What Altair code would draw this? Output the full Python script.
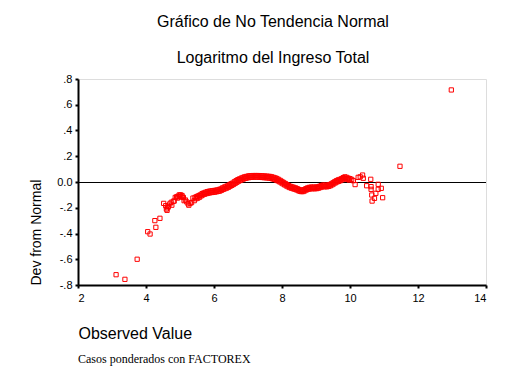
import altair as alt
import pandas as pd

obs = [3.12, 3.38, 3.74, 4.05, 4.12, 4.26, 4.29, 4.41, 4.52, 4.58,
       4.60, 4.62, 4.64, 4.66, 4.70, 4.74, 4.76, 4.80, 4.83, 4.86,
       4.90, 4.94, 4.98, 5.02, 5.06, 5.10, 5.12, 5.16, 5.20, 5.24,
       5.26, 5.30, 5.34, 5.38, 5.42, 5.44, 5.48, 5.52, 5.56, 5.60,
       5.65, 5.70, 5.75, 5.80, 5.85, 5.90, 5.95, 6.00, 6.05, 6.10,
       6.15, 6.20, 6.25, 6.30, 6.35, 6.40, 6.45, 6.50, 6.55, 6.60,
       6.65, 6.70, 6.75, 6.80, 6.85, 6.90, 6.95, 7.00, 7.05, 7.10,
       7.15, 7.20, 7.25, 7.30, 7.35, 7.40, 7.45, 7.50, 7.55, 7.60,
       7.65, 7.70, 7.75, 7.80, 7.85, 7.90, 7.95, 8.00, 8.05, 8.10,
       8.15, 8.20, 8.25, 8.30, 8.35, 8.40, 8.45, 8.50, 8.55, 8.60,
       8.65, 8.70, 8.75, 8.80, 8.85, 8.90, 8.95, 9.00, 9.05, 9.10,
       9.15, 9.20, 9.25, 9.30, 9.35, 9.40, 9.45, 9.50, 9.55, 9.60,
       9.65, 9.70, 9.75, 9.80, 9.85, 9.90, 9.95, 10.00, 10.05, 10.10,
       10.15, 10.24, 10.30, 10.37, 10.39, 10.49, 10.61, 10.62, 10.62, 10.64,
       10.65, 10.72, 10.76, 10.83, 10.83, 10.92, 10.96, 11.47, 12.98]
dev = [-0.72, -0.756, -0.60, -0.386, -0.404, -0.30, -0.352, -0.282, -0.166, -0.184,
       -0.21, -0.22, -0.20, -0.19, -0.17, -0.158, -0.18, -0.15, -0.148, -0.12,
       -0.115, -0.11, -0.10, -0.10, -0.105, -0.12, -0.145, -0.14, -0.155, -0.17,
       -0.18, -0.165, -0.16, -0.125, -0.145, -0.12, -0.115, -0.11, -0.105, -0.10,
       -0.09, -0.085, -0.08, -0.075, -0.072, -0.07, -0.068, -0.066, -0.064, -0.062,
       -0.058, -0.054, -0.046, -0.040, -0.034, -0.030, -0.022, -0.014, -0.008, 0.002,
       0.010, 0.018, 0.024, 0.030, 0.035, 0.040, 0.043, 0.046, 0.048, 0.049,
       0.050, 0.050, 0.050, 0.050, 0.049, 0.048, 0.047, 0.046, 0.045, 0.044,
       0.043, 0.040, 0.036, 0.032, 0.027, 0.020, 0.012, 0.004, -0.004, -0.012,
       -0.020, -0.028, -0.034, -0.038, -0.042, -0.046, -0.052, -0.058, -0.062, -0.064,
       -0.060, -0.052, -0.046, -0.042, -0.040, -0.040, -0.040, -0.040, -0.038, -0.034,
       -0.028, -0.024, -0.024, -0.026, -0.024, -0.020, -0.014, -0.006, 0.002, 0.010,
       0.016, 0.020, 0.026, 0.034, 0.040, 0.036, 0.030, 0.026, 0.020, 0.010,
       -0.020, 0.036, 0.040, 0.054, 0.029, -0.029, 0.021, -0.036, -0.057, -0.101,
       -0.148, -0.127, -0.088, -0.018, -0.057, -0.049, -0.122, 0.122, 0.715]

# Lower edge of the dense band of overlapping cases
obs_band = [4.925, 4.975, 5.025, 5.075,
            5.475, 5.525, 5.575, 5.625, 5.675, 5.725, 5.775, 5.825, 5.875, 5.925,
            5.975, 6.025, 6.075, 6.125, 6.175, 6.225, 6.275, 6.325, 6.375, 6.425,
            6.475, 6.525, 6.575, 6.625, 6.675, 6.725, 6.775, 6.825, 6.875, 6.925,
            6.975, 7.025, 7.075, 7.125, 7.175, 7.225, 7.275, 7.325, 7.375, 7.425,
            7.475, 7.525, 7.575, 7.625, 7.675, 7.725, 7.775, 7.825, 7.875, 7.925,
            7.975, 8.025, 8.075, 8.125, 8.175, 8.225, 8.275, 8.325, 8.375, 8.425,
            8.475, 8.525, 8.575, 8.625, 8.675, 8.725, 8.775, 8.825, 8.875, 8.925,
            8.975, 9.025, 9.075, 9.125, 9.175, 9.225, 9.275, 9.325, 9.375, 9.425,
            9.475, 9.525, 9.575, 9.625, 9.675, 9.725, 9.775, 9.825, 9.875, 9.925,
            9.975]
dev_band = [-0.125, -0.115, -0.112, -0.118,
            -0.13, -0.125, -0.118, -0.108, -0.100, -0.095, -0.090, -0.087, -0.084, -0.082,
            -0.080, -0.078, -0.076, -0.073, -0.070, -0.064, -0.057, -0.052, -0.047, -0.041,
            -0.033, -0.026, -0.019, -0.010, -0.002, 0.006, 0.012, 0.018, 0.024, 0.028,
            0.032, 0.034, 0.036, 0.037, 0.038, 0.038, 0.038, 0.037, 0.036, 0.035,
            0.034, 0.033, 0.032, 0.031, 0.028, 0.024, 0.020, 0.015, 0.009, 0.002,
            -0.006, -0.014, -0.022, -0.030, -0.037, -0.043, -0.048, -0.052, -0.056, -0.061,
            -0.067, -0.072, -0.075, -0.074, -0.068, -0.061, -0.056, -0.053, -0.052, -0.052,
            -0.052, -0.051, -0.048, -0.043, -0.038, -0.036, -0.037, -0.037, -0.034, -0.029,
            -0.022, -0.014, -0.006, 0.001, 0.006, 0.011, 0.018, 0.025, 0.026, 0.020,
            0.015]

x_ticks = [2, 4, 6, 8, 10, 12, 14]
y_ticks = [-0.8, -0.6, -0.4, -0.2, 0.0, 0.2, 0.4, 0.6, 0.8]
ref_line = [0.0]
footnote = ["Casos ponderados con FACTOREX"]

df = pd.DataFrame({"obs": obs + obs_band, "dev": dev + dev_band})
W, H = 408, 206

x_axis = alt.Axis(values=x_ticks, grid=False, title="Observed Value",
                  labelFont="Liberation Sans", labelFontSize=11, labelColor="black",
                  labelPadding=4, tickSize=3, tickWidth=2, tickColor="black",
                  domainColor="black", domainWidth=2, labelOverlap=False,
                  titleFont="Liberation Sans", titleFontSize=16, titleFontWeight="normal",
                  titleColor="black", titleAnchor="start", titleAlign="left",
                  titleBaseline="alphabetic", titleX=0, titleY=53)
y_axis = alt.Axis(values=y_ticks, grid=False, title="Dev from Normal",
                  labelExpr="abs(datum.value) < 0.001 ? '0.0' : (datum.value < 0 ? '-' : '') + '.' + round(abs(datum.value) * 10)",
                  labelFont="Liberation Sans", labelFontSize=11, labelColor="black",
                  labelPadding=3, tickSize=3, tickWidth=2, tickColor="black",
                  domainColor="black", domainWidth=2, labelOverlap=False,
                  titleFont="Liberation Sans", titleFontSize=14, titleFontWeight="normal",
                  titleColor="black", titleAngle=270, titleAlign="left",
                  titleBaseline="alphabetic", titleX=-38, titleY=H)
x_scale = alt.Scale(domain=[2, 14], nice=False, zero=False)
y_scale = alt.Scale(domain=[-0.8, 0.8], nice=False, zero=False)

points = alt.Chart(df).mark_point(shape="square", filled=False, color="#ff0000",
                                  size=18, strokeWidth=1, opacity=1).encode(
    x=alt.X("obs:Q", scale=x_scale, axis=x_axis),
    y=alt.Y("dev:Q", scale=y_scale, axis=y_axis))

zero_line = alt.Chart(pd.DataFrame({"dev": ref_line})).mark_rule(
    color="black", strokeWidth=1, yOffset=0.5).encode(
    y=alt.Y("dev:Q", scale=y_scale, axis=y_axis))

note = alt.Chart(pd.DataFrame({"t": footnote})).mark_text(
    font="Liberation Serif", fontSize=12, align="left", baseline="alphabetic", color="black"
).encode(text="t:N", x=alt.value(0), y=alt.value(H + 78))

chart = alt.layer(zero_line, points, note).properties(
    width=W, height=H,
    autosize=alt.AutoSizeParams(type="none"),
    padding={"left": 70, "top": 71, "right": 14, "bottom": 81},
    title=alt.TitleParams(text="Gráfico de No Tendencia Normal",
                          subtitle="Logaritmo del Ingreso Total",
                          font="Liberation Sans", fontSize=16, fontWeight="normal", color="black",
                          subtitleFont="Liberation Sans", subtitleFontSize=16, subtitleColor="black",
                          subtitlePadding=20, anchor="middle", dx=-9, offset=7),
).configure_view(stroke="black", strokeWidth=1).configure_axis(
    labelOverlap=False, labelBound=False, labelFlush=False
).configure(background="white")

chart.save("out.html", embed_options={"renderer": "svg", "actions": False})
